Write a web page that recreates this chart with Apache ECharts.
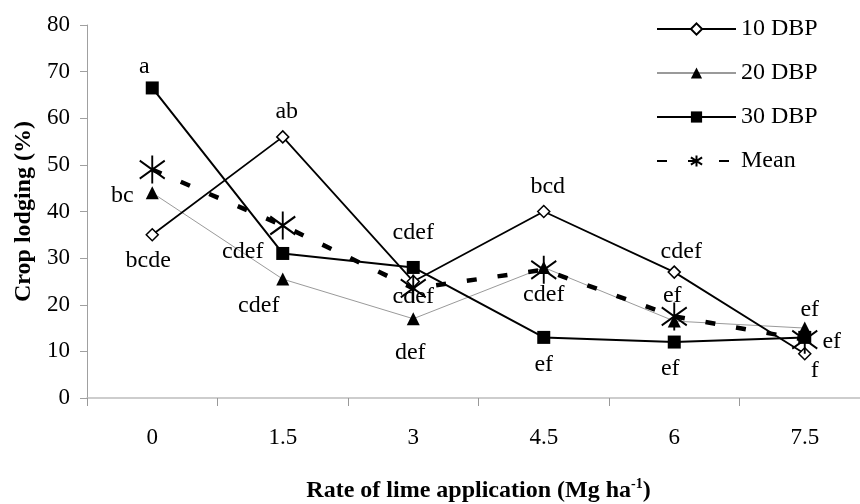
<!DOCTYPE html>
<html>
<head>
<meta charset="utf-8">
<script src="https://cdn.jsdelivr.net/npm/echarts@6/dist/echarts.min.js"></script>
<style>
  html, body { margin: 0; padding: 0; background: #fff; }
  #lodging { width: 860px; height: 504px; }
</style>
</head>
<body>
<div id="lodging"></div>
<script>
// lime rate categories (Mg ha-1)
var limeRates = ['0', '1.5', '3', '4.5', '6', '7.5']
// crop lodging (%)
var dbp10 = [35, 56, 25, 40, 27, 9.5]
var dbp20 = [44, 25.5, 17, 28, 16.5, 15]
var dbp30 = [66.5, 31, 28, 13, 12, 13]
var meanVals = [49, 37, 23.5, 27.5, 17.5, 12.5]
// significance letters
var letters10 = ['bcde', 'ab', 'cdef', 'bcd', 'cdef', 'f']
var letters20 = ['bc', 'cdef', 'def', 'cdef', 'ef', 'ef']
var letters30 = ['a', 'cdef', 'cdef', 'ef', 'ef', 'ef']

// where each letter sits relative to its point (px)
var offs10 = [[-4, 26], [4, -25], [0, 15], [4, -25], [7, -20], [10, 17]]
var offs20 = [[-30, 3], [-24, 27], [-3, 34], [0, 27], [-2, -25], [5, -18]]
var offs30 = [[-8, -21], [-40, -2], [0, -35], [0, 27], [-4, 27], [27, 4]]

var serif = 'Liberation Serif'
var asterisk = 'path://M12,0L12,28M0,5L24,23M0,23L24,5'

function withLetters(vals, letters, offs) {
  return vals.map(function(v, i) {
    return {
      value: v,
      label: {
        show: true,
        formatter: letters[i],
        position: 'inside',
        offset: offs[i],
        color: '#000',
        fontFamily: serif,
        fontSize: 24
      }
    }
  })
}

var chart = echarts.init(document.getElementById('lodging'))
chart.setOption({
  animation: false,
  backgroundColor: '#fff',
  textStyle: { fontFamily: serif },
  grid: {
    left: 87,
    top: 25,
    width: 783,
    height: 373,
    containLabel: false,
    outerBoundsMode: 'none'
  },
  legend: {
    orient: 'vertical',
    left: 651,
    top: 12,
    itemWidth: 79,
    itemHeight: 14,
    itemGap: 20,
    textStyle: { color: '#000', fontFamily: serif, fontSize: 24 },
    data: ['10 DBP', '20 DBP', '30 DBP', 'Mean']
  },
  xAxis: {
    type: 'category',
    data: limeRates,
    boundaryGap: true,
    name: '{n|Rate of lime application (Mg ha}{s|-1}{n|)}',
    nameLocation: 'middle',
    nameGap: 79,
    nameTextStyle: {
      rich: {
        n: { fontFamily: serif, fontSize: 24, fontWeight: 'bold', color: '#000' },
        s: { fontFamily: serif, fontSize: 14, fontWeight: 'bold', color: '#000', padding: [0, 0, 14, 0] }
      }
    },
    axisLine: { lineStyle: { color: '#bdbdbd', width: 1.5 } },
    axisTick: { show: true, length: 8, lineStyle: { color: '#999' } },
    axisLabel: { color: '#000', fontFamily: serif, fontSize: 23, margin: 28 },
    splitLine: { show: false }
  },
  yAxis: {
    type: 'value',
    min: 0,
    max: 80,
    interval: 10,
    name: 'Crop lodging (%)',
    nameLocation: 'middle',
    nameGap: 48,
    nameTextStyle: { color: '#000', fontFamily: serif, fontSize: 24, fontWeight: 'bold' },
    axisLine: { show: true, lineStyle: { color: '#a0a0a0', width: 1 } },
    axisTick: { show: true, length: 7, lineStyle: { color: '#a0a0a0' } },
    axisLabel: { color: '#000', fontFamily: serif, fontSize: 23, margin: 17 },
    splitLine: { show: false }
  },
  series: [
    {
      name: '10 DBP',
      type: 'line',
      data: withLetters(dbp10, letters10, offs10),
      symbol: 'diamond',
      symbolSize: 12,
      showAllSymbol: true,
      itemStyle: { color: '#fff', borderColor: '#000', borderWidth: 1.5 },
      lineStyle: { color: '#000', width: 1.8 },
      z: 3
    },
    {
      name: '20 DBP',
      type: 'line',
      data: withLetters(dbp20, letters20, offs20),
      symbol: 'triangle',
      symbolSize: 13,
      itemStyle: { color: '#000', borderColor: '#000', borderWidth: 0 },
      lineStyle: { color: '#9a9a9a', width: 1 },
      z: 2
    },
    {
      name: '30 DBP',
      type: 'line',
      data: withLetters(dbp30, letters30, offs30),
      symbol: 'rect',
      symbolSize: 13,
      itemStyle: { color: '#000', borderColor: '#000', borderWidth: 0 },
      lineStyle: { color: '#000', width: 2 },
      z: 3
    },
    {
      name: 'Mean',
      type: 'line',
      data: meanVals,
      symbol: asterisk,
      symbolSize: [25, 28],
      itemStyle: { color: '#000', borderColor: '#000', borderWidth: 2 },
      lineStyle: { color: '#000', width: 4.5, type: [10, 21] },
      z: 4
    }
  ]
})
</script>
</body>
</html>
